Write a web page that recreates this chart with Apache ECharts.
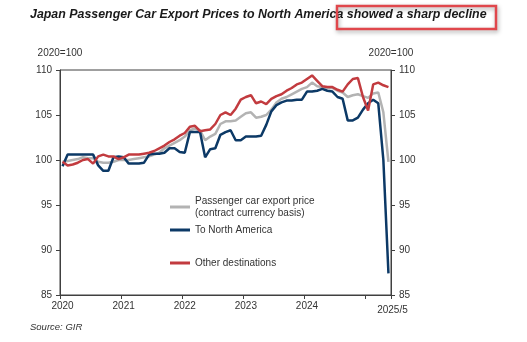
<!DOCTYPE html>
<html>
<head>
<meta charset="utf-8">
<script src="https://cdn.jsdelivr.net/npm/echarts@6/dist/echarts.min.js"></script>
<style>
  html, body { margin: 0; padding: 0; background: #fff; }
  #chart { width: 527px; height: 342px; }
</style>
</head>
<body>
<div id="chart"></div>
<script>
// Monthly categories, January 2020 through May 2025
const startYear = 2020;
const lastYear = 2025;
const lastMonth = 5;
const months = [];
for (let y = startYear; y <= lastYear; y++) {
  for (let m = 1; m <= 12; m++) {
    if (y === lastYear && m > lastMonth) break;
    months.push(y + '/' + m);
  }
}

const yTicks = [85, 90, 95, 100, 105, 110];

// Export price indices, 2020 = 100
const allExports = [
  99.8, 99.9, 100.0, 100.1, 100.3, 100.2, 100.2, 99.8, 99.7, 99.7, 99.8, 100.0,
  100.0, 100.0, 100.1, 100.2, 100.3, 100.4, 100.6, 100.8, 101.3, 101.6, 101.9, 102.2,
  102.6, 103.3, 103.5, 103.3, 102.2, 102.6, 102.9, 104.0, 104.3, 104.3, 104.4, 104.8,
  105.2, 105.3, 104.7, 104.8, 105.0, 105.6, 106.4, 106.8, 107.0, 107.3, 107.6, 107.9,
  108.1, 108.6, 108.2, 108.1, 108.0, 108.0, 107.7, 107.5, 107.0, 107.2, 107.3, 107.1,
  106.9, 107.4, 107.5, 105.3, 99.8
];
const toNorthAmerica = [
  99.3, 100.6, 100.6, 100.6, 100.6, 100.6, 100.6, 99.4, 98.8, 98.8, 100.3, 100.4,
  100.3, 99.6, 99.6, 99.6, 99.7, 100.6, 100.7, 100.7, 100.8, 101.3, 101.3, 100.9,
  100.8, 103.1, 103.1, 103.1, 100.3, 101.2, 101.3, 102.8, 103.1, 103.3, 102.2, 102.2,
  102.6, 102.6, 102.6, 102.7, 103.9, 105.4, 106.1, 106.4, 106.6, 106.6, 106.7, 106.7,
  107.6, 107.6, 107.7, 107.9, 107.7, 107.6, 107.0, 106.8, 104.4, 104.4, 104.7, 105.6,
  106.3, 106.7, 106.3, 100.0, 87.4
];
const otherDestinations = [
  99.8, 99.4, 99.5, 99.7, 100.0, 100.1, 99.6, 100.4, 100.6, 100.4, 100.4, 100.1,
  100.3, 100.6, 100.6, 100.6, 100.7, 100.8, 101.0, 101.3, 101.6, 102.0, 102.3, 102.7,
  103.0, 103.7, 103.8, 103.2, 103.3, 103.4, 104.0, 105.0, 105.3, 105.0, 105.7, 106.7,
  107.0, 107.2, 106.3, 106.5, 106.2, 106.8, 107.1, 107.3, 107.7, 108.0, 108.4, 108.6,
  109.0, 109.4, 108.8, 108.2, 108.1, 108.1, 107.8, 107.6, 108.4, 109.0, 109.1, 107.0,
  105.5, 108.4, 108.6, 108.3, 108.1
];

const nameAll = 'Passenger car export price\n(contract currency basis)';
const nameNA = 'To North America';
const nameOther = 'Other destinations';

const colorAll = '#b3b3b3';
const colorNA = '#0c3966';
const colorOther = '#c23b3f';

const font = 'Liberation Sans, Arial, sans-serif';
const axisColor = '#404040';
const textColor = '#333333';

const chart = echarts.init(document.getElementById('chart'), null, { renderer: 'canvas' });

function yAxisDef(position) {
  return {
    type: 'value',
    position: position,
    min: yTicks[0],
    max: yTicks[yTicks.length - 1],
    interval: 5,
    name: '2020=100',
    nameLocation: 'end',
    nameGap: 12,
    nameTextStyle: { color: textColor, fontSize: 10, fontFamily: font },
    axisLine: { show: true, lineStyle: { color: axisColor, width: 1 } },
    axisTick: { show: true, length: 4, lineStyle: { color: axisColor } },
    axisLabel: { color: textColor, fontSize: 10, fontFamily: font, margin: 8 },
    splitLine: { show: false }
  };
}

function legendDef(name, top, extraText) {
  return {
    orient: 'vertical',
    left: 170,
    top: top,
    itemWidth: 20,
    itemHeight: 3,
    icon: 'rect',
    padding: 0,
    data: [{ name: name, textStyle: extraText || {} }],
    textStyle: { color: textColor, fontSize: 10, fontFamily: font, lineHeight: 12 }
  };
}

const option = {
  animation: false,
  backgroundColor: '#ffffff',
  title: {
    text: 'Japan Passenger Car Export Prices to North America showed a sharp decline',
    left: 30,
    top: 9,
    padding: 0,
    textStyle: {
      fontSize: 12.4,
      fontWeight: 'bold',
      fontStyle: 'italic',
      fontFamily: font,
      color: '#1a1a1a'
    }
  },
  grid: {
    left: 60,
    right: 136,
    top: 70,
    bottom: 47,
    show: true,
    borderColor: axisColor,
    borderWidth: 1,
    backgroundColor: 'transparent'
  },
  legend: [
    legendDef(nameAll, 189, { padding: [12, 0, 0, 0] }),
    legendDef(nameNA, 224),
    legendDef(nameOther, 257)
  ],
  xAxis: {
    type: 'category',
    data: months,
    boundaryGap: true,
    axisLine: { show: true, lineStyle: { color: axisColor, width: 1 } },
    axisTick: {
      show: true,
      length: 4,
      interval: function (index) { return index % 12 === 0; },
      lineStyle: { color: axisColor }
    },
    axisLabel: {
      color: textColor,
      fontSize: 10,
      fontFamily: font,
      margin: 6,
      interval: function (index) {
        return (index % 12 === 0 && index < months.length - lastMonth) || index === months.length - 1;
      },
      formatter: function (value, index) {
        if (index === months.length - 1) return '{e|' + value + '}';
        return value.split('/')[0];
      },
      rich: {
        e: { color: textColor, fontSize: 10, fontFamily: font, padding: [4, 0, 0, 8] }
      }
    },
    splitLine: { show: false }
  },
  yAxis: [yAxisDef('left'), yAxisDef('right')],
  series: [
    {
      name: nameAll,
      type: 'line',
      data: allExports,
      showSymbol: false,
      symbol: 'none',
      lineStyle: { color: colorAll, width: 2.5 },
      itemStyle: { color: colorAll },
      z: 2
    },
    {
      name: nameNA,
      type: 'line',
      data: toNorthAmerica,
      showSymbol: false,
      symbol: 'none',
      lineStyle: { color: colorNA, width: 2.5 },
      itemStyle: { color: colorNA },
      z: 3
    },
    {
      name: nameOther,
      type: 'line',
      data: otherDestinations,
      showSymbol: false,
      symbol: 'none',
      lineStyle: { color: colorOther, width: 2.5 },
      itemStyle: { color: colorOther },
      z: 4
    }
  ],
  graphic: [
    {
      // highlight frame around the headline's key phrase
      type: 'rect',
      z: 100,
      shape: { x: 337, y: 6, width: 159, height: 23 },
      style: {
        fill: 'transparent',
        stroke: '#e0474c',
        lineWidth: 2.5,
        shadowBlur: 4,
        shadowOffsetX: 1,
        shadowOffsetY: 2,
        shadowColor: 'rgba(0,0,0,0.35)'
      }
    },
    {
      type: 'text',
      left: 30,
      top: 322,
      style: {
        text: 'Source: GIR',
        fill: textColor,
        font: 'italic 9.5px ' + font
      }
    }
  ]
};

chart.setOption(option);
</script>
</body>
</html>
